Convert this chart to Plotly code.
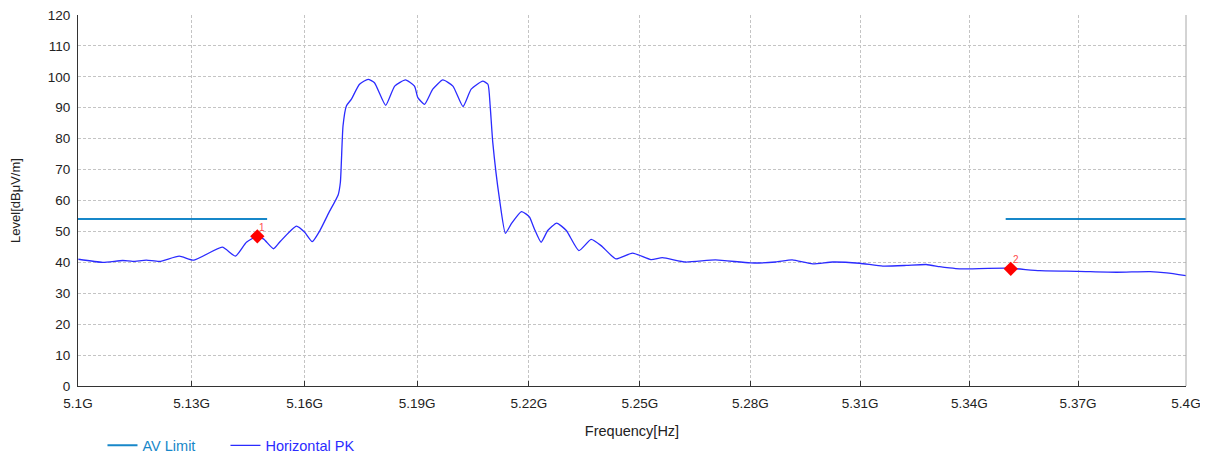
import math
import plotly.graph_objects as go

# ---- data ----
freq_ghz = [5.1001, 5.1065, 5.1118, 5.1144, 5.1180, 5.1215, 5.1267,
            5.1306, 5.1381, 5.1416, 5.1445, 5.1474, 5.1491, 5.1517, 5.1533, 5.1578, 5.1600,
            5.1620, 5.1640, 5.1664, 5.1689, 5.1695, 5.1702, 5.1711, 5.1724, 5.1746, 5.1769,
            5.1786, 5.1816, 5.1840, 5.1869, 5.1893,
            5.1902, 5.1920, 5.1942, 5.1969, 5.1996, 5.2023, 5.2045, 5.2076, 5.2090, 5.2096,
            5.2103, 5.2121, 5.2137, 5.2153, 5.2180, 5.2193,
            5.2202, 5.2215, 5.2233, 5.2251, 5.2275, 5.2301, 5.2335, 5.2368, 5.2395, 5.2435, 5.2480,
            5.2530, 5.2561, 5.2624, 5.2705, 5.2800,
            5.2869, 5.2914, 5.2970, 5.3025, 5.3098,
            5.3162, 5.3226, 5.3281, 5.3318, 5.3345, 5.3373, 5.3400,
            5.3506, 5.3594, 5.3700,
            5.3807, 5.3900, 5.3946, 5.4000]
level_dbuv = [41.0, 40.0, 40.6, 40.3, 40.7, 40.3, 42.0,
              40.7, 44.9, 42.0, 46.5, 48.4, 47.5, 44.4, 46.5, 51.7, 49.7,
              46.7, 50.2, 56.0, 61.8, 65.9, 84.1, 90.6, 92.7, 97.6, 99.2,
              98.1, 90.8, 97.0, 99.0, 97.0,
              93.3, 91.1, 96.0, 99.0, 97.0, 90.4, 96.0, 98.6, 97.6, 90.6,
              78.8, 60.5, 49.4, 52.5, 56.4, 55.6,
              54.6, 50.8, 46.5, 50.3, 52.7, 50.3, 43.8, 47.4, 45.4, 41.1, 43.0,
              40.9, 41.5, 40.1, 40.8, 39.8,
              40.1, 40.8, 39.5, 40.1, 39.7,
              38.8, 39.0, 39.3, 38.6, 38.2, 37.9, 37.9,
              38.1, 37.3, 37.1,
              36.8, 37.0, 36.6, 35.7]

limit_freq_low = [5.10, 5.15]
limit_freq_high = [5.35, 5.40]
limit_level = [54, 54]

marker_freq = [5.1474, 5.3514]
marker_level = [48.4, 37.9]
marker_labels = ["1", "2"]

tick_vals = [5.10, 5.13, 5.16, 5.19, 5.22, 5.25, 5.28, 5.31, 5.34, 5.37, 5.40]
tick_text = ["5.1G", "5.13G", "5.16G", "5.19G", "5.22G", "5.25G", "5.28G",
             "5.31G", "5.34G", "5.37G", "5.4G"]

LIMIT_COLOR = "#1787c9"
TRACE_COLOR = "#2b2bff"
FONT = "Liberation Sans, Arial, sans-serif"

fig = go.Figure()

fig.add_trace(go.Scatter(
    x=limit_freq_low, y=limit_level, mode="lines",
    line=dict(color=LIMIT_COLOR, width=2),
    name=f"<span style='color:{LIMIT_COLOR}'>AV Limit</span>",
    legendgroup="lim", showlegend=True, legend="legend"))
fig.add_trace(go.Scatter(
    x=limit_freq_high, y=limit_level, mode="lines",
    line=dict(color=LIMIT_COLOR, width=2),
    legendgroup="lim", showlegend=False))

fig.add_trace(go.Scatter(
    x=freq_ghz, y=level_dbuv, mode="lines",
    line=dict(color=TRACE_COLOR, width=1.3, shape="spline", smoothing=0.5),
    name=f"<span style='color:{TRACE_COLOR}'>Horizontal PK</span>",
    legend="legend2"))

fig.add_trace(go.Scatter(
    x=marker_freq, y=marker_level, mode="markers",
    marker=dict(symbol="diamond", size=11, color="#ff0000"),
    showlegend=False))

for fx, fy, lab in zip(marker_freq, marker_level, marker_labels):
    fig.add_annotation(x=math.log10(fx), y=fy, text=lab, showarrow=False,
                       xshift=5, yshift=9,
                       font=dict(color="#ff4d4d", size=10, family=FONT))

grid = dict(showgrid=True, gridcolor="#c4c4c4", griddash="3px,2px", gridwidth=1)
leg_common = dict(orientation="h", y=-0.117, xanchor="left", yanchor="top",
                  font=dict(size=14.5, family=FONT), bgcolor="rgba(0,0,0,0)",
                  itemwidth=30)

# the page body has an 8px margin, so the figure is 8px smaller and offset
fig.update_layout(
    width=1200, height=447,
    margin=dict(l=70, r=22, t=7, b=69, autoexpand=False),
    paper_bgcolor="white", plot_bgcolor="white",
    font=dict(family=FONT, size=13.5, color="#222222"),
    showlegend=True,
    legend=dict(x=0.0221, **leg_common),
    legend2=dict(x=0.1331, **leg_common),
)
fig.update_xaxes(type="log", range=[math.log10(5.10), math.log10(5.40)],
                 tickvals=tick_vals, ticktext=tick_text,
                 automargin=False, ticklabeloverflow="allow",
                 showline=True, linecolor="#333333", linewidth=1,
                 ticks="inside", ticklen=5, tickcolor="#333333",
                 ticklabelstandoff=5,
                 title=dict(text="Frequency[Hz]", font=dict(size=14.5), standoff=15),
                 zeroline=False, **grid)
fig.update_yaxes(range=[0, 120], dtick=10, tick0=0,
                 automargin=False, ticklabeloverflow="allow",
                 showline=True, linecolor="#333333", linewidth=1,
                 ticks="", ticklabelstandoff=4,
                 title=dict(text="Level[dBμV/m]", font=dict(size=13), standoff=27),
                 zeroline=False, **grid)

fig.add_shape(type="line", xref="paper", yref="paper", x0=1, x1=1, y0=0, y1=1,
              line=dict(color="#a8a8a8", width=1))

fig.write_html("out.html")
